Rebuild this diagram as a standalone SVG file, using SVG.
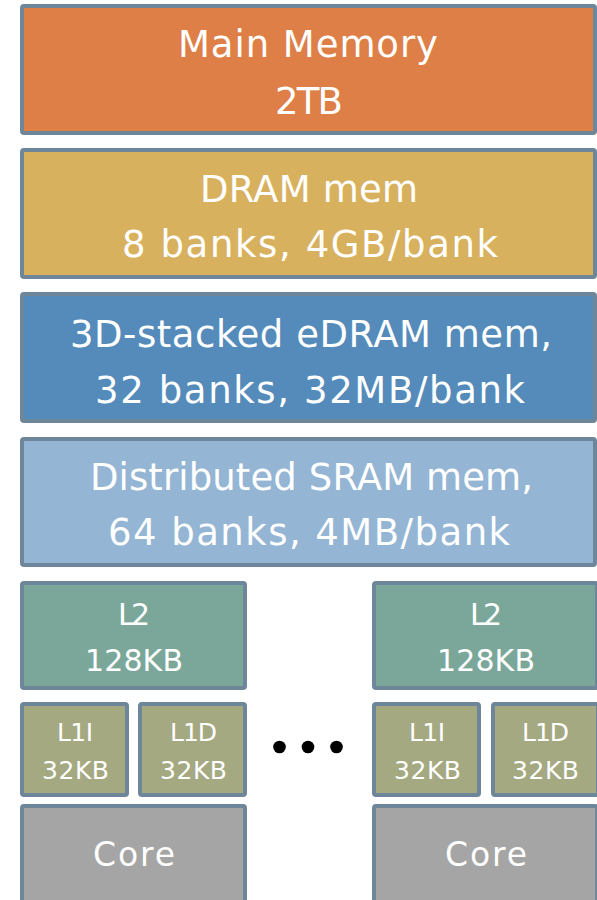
<svg xmlns="http://www.w3.org/2000/svg" width="597" height="900" viewBox="0 0 597 900">
  <style>
    .box { stroke: #6E8699; stroke-width: 4; }
    .lbl { fill: #FFFFFF; font-family: "DejaVu Sans", "Liberation Sans", sans-serif; }
    .big { font-size: 37px; }
    .mid { font-size: 30px; }
    .core { font-size: 33px; }
    .sm { font-size: 25px; }
  </style>
  <rect width="597" height="900" fill="#FFFFFF"/>

  <!-- shared memory levels -->
  <g id="main-memory">
    <rect class="box" x="22" y="6" width="573" height="127" rx="2" fill="#DD7F47"/>
    <text class="lbl big" x="178" y="57" textLength="260" lengthAdjust="spacing">Main Memory</text>
    <text class="lbl big" x="275" y="114" textLength="68" lengthAdjust="spacing">2TB</text>
  </g>
  <g id="dram">
    <rect class="box" x="22" y="150" width="573" height="127" rx="2" fill="#D8B15E"/>
    <text class="lbl big" x="200" y="202" textLength="218" lengthAdjust="spacing">DRAM mem</text>
    <text class="lbl big" x="122" y="257" textLength="376" lengthAdjust="spacing">8 banks, 4GB/bank</text>
  </g>
  <g id="edram">
    <rect class="box" x="22" y="294" width="573" height="127" rx="2" fill="#548BBA"/>
    <text class="lbl big" x="70" y="347" textLength="482" lengthAdjust="spacing">3D-stacked eDRAM mem,</text>
    <text class="lbl big" x="95" y="403" textLength="430" lengthAdjust="spacing">32 banks, 32MB/bank</text>
  </g>
  <g id="sram">
    <rect class="box" x="22" y="439" width="573" height="126" rx="2" fill="#94B5D3"/>
    <text class="lbl big" x="90" y="490" textLength="443" lengthAdjust="spacing">Distributed SRAM mem,</text>
    <text class="lbl big" x="108" y="545" textLength="402" lengthAdjust="spacing">64 banks, 4MB/bank</text>
  </g>

  <!-- core tile, left -->
  <g id="l2-a">
    <rect class="box" x="22" y="583" width="223" height="105" rx="2" fill="#7AA79A"/>
    <text class="lbl mid" x="118" y="625" textLength="32" lengthAdjust="spacing">L2</text>
    <text class="lbl mid" x="85" y="671" textLength="98" lengthAdjust="spacing">128KB</text>
  </g>
  <g id="l1i-a">
    <rect class="box" x="22" y="704" width="105" height="91" rx="2" fill="#A4A981"/>
    <text class="lbl sm" x="57" y="741" textLength="36" lengthAdjust="spacing">L1I</text>
    <text class="lbl sm" x="42" y="779" textLength="67" lengthAdjust="spacing">32KB</text>
  </g>
  <g id="l1d-a">
    <rect class="box" x="140" y="704" width="105" height="91" rx="2" fill="#A4A981"/>
    <text class="lbl sm" x="170" y="741" textLength="47" lengthAdjust="spacing">L1D</text>
    <text class="lbl sm" x="160" y="779" textLength="67" lengthAdjust="spacing">32KB</text>
  </g>
  <g id="core-a">
    <rect class="box" x="22" y="806" width="223" height="110" rx="2" fill="#A5A5A5"/>
    <text class="lbl core" x="93" y="866" textLength="82" lengthAdjust="spacing">Core</text>
  </g>

  <!-- ellipsis between tiles -->
  <g id="ellipsis" fill="#000000">
    <circle cx="279.5" cy="747" r="6.3"/>
    <circle cx="308" cy="747" r="6.3"/>
    <circle cx="336.5" cy="747" r="6.3"/>
  </g>

  <!-- core tile, right -->
  <g id="l2-b">
    <rect class="box" x="374" y="583" width="223" height="105" rx="2" fill="#7AA79A"/>
    <text class="lbl mid" x="470" y="625" textLength="32" lengthAdjust="spacing">L2</text>
    <text class="lbl mid" x="437" y="671" textLength="98" lengthAdjust="spacing">128KB</text>
  </g>
  <g id="l1i-b">
    <rect class="box" x="374" y="704" width="105" height="91" rx="2" fill="#A4A981"/>
    <text class="lbl sm" x="409" y="741" textLength="36" lengthAdjust="spacing">L1I</text>
    <text class="lbl sm" x="394" y="779" textLength="67" lengthAdjust="spacing">32KB</text>
  </g>
  <g id="l1d-b">
    <rect class="box" x="493" y="704" width="105" height="91" rx="2" fill="#A4A981"/>
    <text class="lbl sm" x="522" y="741" textLength="47" lengthAdjust="spacing">L1D</text>
    <text class="lbl sm" x="512" y="779" textLength="67" lengthAdjust="spacing">32KB</text>
  </g>
  <g id="core-b">
    <rect class="box" x="374" y="806" width="223" height="110" rx="2" fill="#A5A5A5"/>
    <text class="lbl core" x="445" y="866" textLength="82" lengthAdjust="spacing">Core</text>
  </g>

  <!-- no connectors in this stack -->
  <g id="connectors"/>
</svg>
